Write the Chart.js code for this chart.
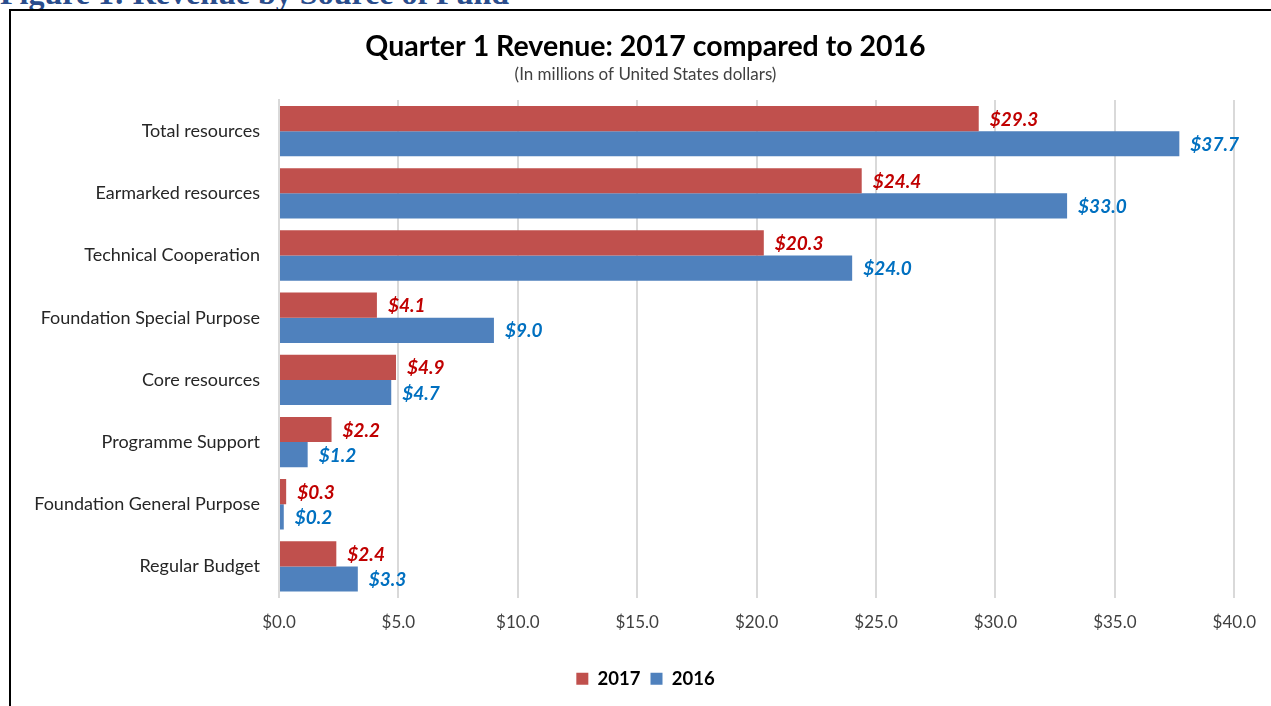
<!DOCTYPE html>
<html>
<head>
<meta charset="utf-8">
<script src="https://cdn.jsdelivr.net/npm/chart.js@4"></script>
<style>
  body { margin: 0; background: #fff; overflow: hidden; }
  #heading {
    position: absolute; left: 0; top: -25px;
    font-family: "Liberation Serif", serif; font-weight: bold;
    font-size: 32px; color: #2a4d8c; white-space: nowrap;
  }
  #frame {
    position: absolute; left: 9px; top: 9px; width: 1280px; height: 720px;
    border: 2px solid #000;
  }
  #wrap { position: absolute; left: 0; top: 0; width: 1271px; height: 706px; }
</style>
</head>
<body>
<div id="heading">Figure 1: Revenue by Source of Fund</div>
<div id="frame"></div>
<div id="wrap"><canvas id="graph1"></canvas></div>
<script>
// values
const categories = [
    'Total resources',
    'Earmarked resources',
    'Technical Cooperation',
    'Foundation Special Purpose',
    'Core resources',
    'Programme Support',
    'Foundation General Purpose',
    'Regular Budget'
];
const revenue2017 = [29.3, 24.4, 20.3, 4.1, 4.9, 2.2, 0.3, 2.4];
const revenue2016 = [37.7, 33.0, 24.0, 9.0, 4.7, 1.2, 0.2, 3.3];
const tickValues = [0, 5, 10, 15, 20, 25, 30, 35, 40];

const FONT = 'Lato, "Open Sans", sans-serif';

// draws the "$29.3" style labels next to each bar
const barValueLabels = {
    id: 'barValueLabels',
    afterDatasetsDraw(chart) {
        const ctx = chart.ctx;
        ctx.save();
        ctx.font = 'italic bold 19px ' + FONT;
        ctx.textAlign = 'left';
        ctx.textBaseline = 'middle';
        chart.data.datasets.forEach((ds, i) => {
            const meta = chart.getDatasetMeta(i);
            ctx.fillStyle = ds.labelColor;
            meta.data.forEach((bar, j) => {
                ctx.fillText('$' + ds.data[j].toFixed(1), bar.x + 11, bar.y + 1);
            });
        });
        ctx.restore();
    }
};

// the long category names reach past the layout padding, so widen
// the area the y labels are clipped to
const widenLabelArea = {
    id: 'widenLabelArea',
    afterLayout(chart) {
        chart.scales.y.left = 0;
    }
};

const data1 = {
    labels: categories,
    datasets: [
        {
            label: '2017',
            data: revenue2017,
            backgroundColor: '#c0504d',
            labelColor: '#c00000',
            categoryPercentage: 0.81,
            barPercentage: 1.0
        },
        {
            label: '2016',
            data: revenue2016,
            backgroundColor: '#4f81bd',
            labelColor: '#0070c0',
            categoryPercentage: 0.81,
            barPercentage: 1.0
        }
    ]
};

const config = {
    type: 'bar',
    data: data1,
    options: {
        indexAxis: 'y',
        responsive: false,
        animation: false,
        devicePixelRatio: 1,
        layout: { padding: { left: 54, right: 34, top: 0, bottom: 8 } },
        scales: {
            x: {
                min: 0,
                max: 40,
                afterBuildTicks(scale) {
                    scale.ticks = tickValues.map(v => ({ value: v }));
                },
                afterFit(scale) { scale.height = 62; },
                grid: { color: '#d9d9d9', lineWidth: 2, drawTicks: false },
                border: { display: false },
                ticks: {
                    padding: 15,
                    color: '#404040',
                    font: { family: FONT, size: 17 },
                    callback: (v) => '$' + Number(v).toFixed(1)
                }
            },
            y: {
                afterFit(scale) { scale.width = 279 - 54; },
                grid: { display: false, drawTicks: false },
                border: { display: true, color: '#d9d9d9', width: 2 },
                ticks: {
                    padding: 19,
                    color: '#262626',
                    font: { family: FONT, size: 18 }
                }
            }
        },
        plugins: {
            title: {
                display: true,
                text: 'Quarter 1 Revenue: 2017 compared to 2016',
                color: '#000',
                font: { family: FONT, size: 28.5, weight: 'bold' },
                padding: { top: 30, bottom: 0 }
            },
            subtitle: {
                display: true,
                text: '(In millions of United States dollars)',
                color: '#404040',
                font: { family: FONT, size: 17 },
                padding: { top: 0, bottom: 15.5 }
            },
            legend: {
                position: 'bottom',
                labels: {
                    boxWidth: 12,
                    boxHeight: 12,
                    padding: 10,
                    color: '#000',
                    font: { family: FONT, size: 18.5, weight: 'bold' }
                }
            },
            tooltip: { enabled: false }
        }
    },
    plugins: [barValueLabels, widenLabelArea]
};

const canvas = document.getElementById('graph1');
canvas.width = 1271;
canvas.height = 706;
new Chart(canvas.getContext('2d'), config);
</script>
</body>
</html>
